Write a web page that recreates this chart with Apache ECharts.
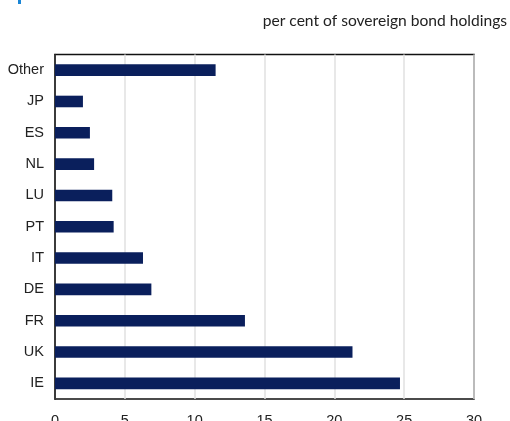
<!DOCTYPE html>
<html><head><meta charset="utf-8">
<script src="https://cdn.jsdelivr.net/npm/echarts@6/dist/echarts.min.js"></script>
<style>html,body{margin:0;padding:0;background:#fff}#c{width:510px;height:421px}</style>
</head><body><div id="c"></div>
<script>
const categories = ['IE','UK','FR','DE','IT','PT','LU','NL','ES','JP','Other'];
const values = [24.7, 21.3, 13.6, 6.9, 6.3, 4.2, 4.1, 2.8, 2.5, 2.0, 11.5];
const unitLabel = 'per cent of sovereign bond holdings';
const chart = echarts.init(document.getElementById('c'), null, {renderer:'canvas'});
chart.setOption({
  animation:false,
  backgroundColor:'#fff',
  graphic:[
    {type:'rect', shape:{x:18,y:0,width:3,height:4}, style:{fill:'#1a86d6'}},
    {type:'text', right:3, top:13, style:{text:unitLabel, font:'15.6px Lato', fill:'#222', textAlign:'right'}}
  ],
  grid:{left:55, right:36, top:54.5, bottom:22, show:true, borderColor:'#111', borderWidth:1.5, backgroundColor:'transparent', containLabel:false, outerBoundsMode:'none'},
  xAxis:{type:'value', min:0, max:30, interval:5,
    axisLine:{show:false}, axisTick:{show:false},
    splitLine:{show:true, lineStyle:{color:'#e0e0e0', width:1.5}},
    axisLabel:{color:'#222', fontFamily:'Liberation Sans', fontSize:14.5, margin:14}},
  yAxis:{type:'category', data:categories,
    axisLine:{show:true, lineStyle:{color:'#111', width:1.5}}, axisTick:{show:false},
    axisLabel:{color:'#222', fontFamily:'Liberation Sans', fontSize:14.5, margin:11}},
  series:[{type:'bar', data:values, barWidth:'37%', itemStyle:{color:'#0a1f5c'}}]
});
</script></body></html>
